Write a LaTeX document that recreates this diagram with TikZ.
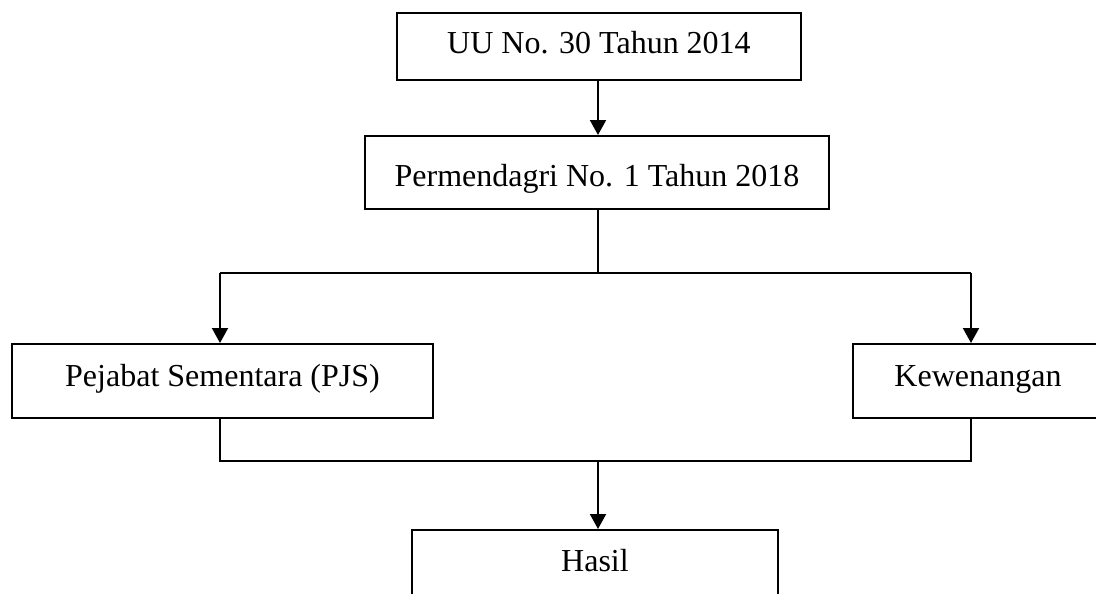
\documentclass[tikz,border=0pt]{standalone}
\usepackage{fontspec}
\setmainfont{Liberation Serif}
\usetikzlibrary{arrows.meta}
\begin{document}
\begin{tikzpicture}[x=1pt,y=-1pt,
  box/.style={draw, line width=2pt, rectangle, inner sep=0pt, anchor=north,
    font=\fontsize{32}{38}\selectfont},
  conn/.style={line width=2pt},
  arr/.style={conn, -{Triangle[width=16pt,length=15pt]}}]
\useasboundingbox (0,0) rectangle (1096,594);
\begin{scope}
\clip (0,0) rectangle (1096,594);
\node[box, minimum width=404pt, text height=41pt, text depth=26pt] (b1) at (599,12) {UU No. 30 Tahun 2014};
\node[box, minimum width=464pt, text height=50pt, text depth=23pt] (b2) at (597,135) {Permendagri No. 1 Tahun 2018};
\node[box, minimum width=421pt, text height=42pt, text depth=32pt] (b3) at (222.5,343) {Pejabat Sementara (PJS)};
\node[box, minimum width=250pt, text height=42pt, text depth=32pt] (b4) at (978,343) {Kewenangan};
\node[box, minimum width=366pt, text height=41pt, text depth=40pt] (b5) at (595,529) {Hasil};
\coordinate (j1) at (598,273);
\coordinate (t3) at (220,273);
\coordinate (t4) at (971,273);
\coordinate (u3) at (220,461);
\coordinate (u4) at (971,461);
\coordinate (j2) at (598,461);
\draw[arr] (b1.south -| j1) -- (b2.north -| j1);
\draw[conn] (b2.south -| j1) -- (j1);
\draw[conn] (t3) -- (t4);
\draw[arr] (t3) -- (t3 |- b3.north);
\draw[arr] (t4) -- (t4 |- b4.north);
\draw[conn] (b3.south -| u3) -- (u3) -- (u4) -- (b4.south -| u4);
\draw[arr] (j2) -- (j2 |- b5.north);
\end{scope}
\end{tikzpicture}
\end{document}
